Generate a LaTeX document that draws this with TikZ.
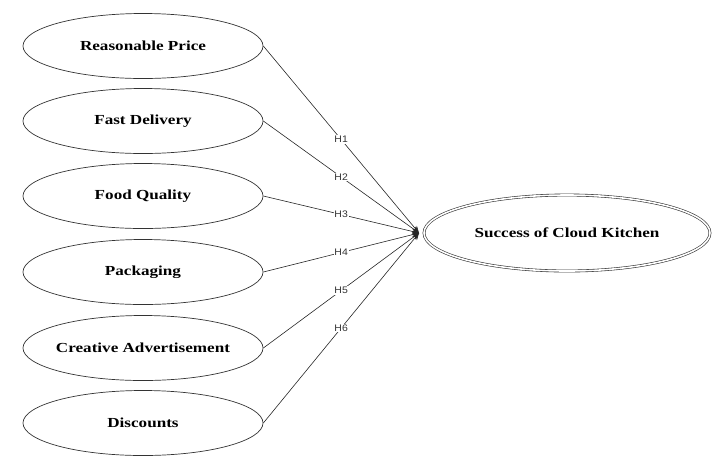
\documentclass[tikz,border=0pt]{standalone}
\usepackage{fontspec}
\setmainfont{Liberation Serif}
\newfontfamily\nodefont[FakeStretch=1.24]{Liberation Serif}
\newfontfamily\labelfont[FakeStretch=1.1]{Liberation Sans}
\usetikzlibrary{shapes.geometric,arrows.meta}
\begin{document}
\begin{tikzpicture}[x=1pt,y=-1pt,
  factor/.style={ellipse,draw=black!80,line width=0.7pt,minimum width=240pt,minimum height=65pt,inner ysep=0pt,inner xsep=-8pt,font=\nodefont\fontsize{13.8}{15}\selectfont\bfseries},
  outcome/.style={ellipse,draw=black!80,line width=0.6pt,double,double distance=1.6pt,minimum width=286pt,minimum height=76pt,inner ysep=0pt,inner xsep=-8pt,font=\nodefont\fontsize{13.8}{15}\selectfont\bfseries},
  link/.style={draw=black!85,line width=0.6pt,-{Stealth[length=7pt,width=6pt]}},
  hlabel/.style={fill=white,inner sep=1pt,font=\labelfont\fontsize{9.5}{11}\selectfont,text=black!80}]
\useasboundingbox (0,0) rectangle (720,467);
\node[factor] (f1) at (143,46) {Reasonable Price};
\node[factor] (f2) at (143,121) {Fast Delivery};
\node[factor] (f3) at (143,196) {Food Quality};
\node[factor] (f4) at (143,272) {Packaging};
\node[factor] (f5) at (143,348) {Creative Advertisement};
\node[factor] (f6) at (143,423) {Discounts};
\node[outcome] (s) at (567,233) {Success of Cloud Kitchen};
\coordinate (t) at (419,233);
\draw[link] (f1.east) -- node[hlabel,pos=0.5]{H1} (t);
\draw[link] (f2.east) -- node[hlabel,pos=0.5]{H2} (t);
\draw[link] (f3.east) -- node[hlabel,pos=0.5]{H3} (t);
\draw[link] (f4.east) -- node[hlabel,pos=0.5]{H4} (t);
\draw[link] (f5.east) -- node[hlabel,pos=0.5]{H5} (t);
\draw[link] (f6.east) -- node[hlabel,pos=0.5]{H6} (t);
\end{tikzpicture}
\end{document}
